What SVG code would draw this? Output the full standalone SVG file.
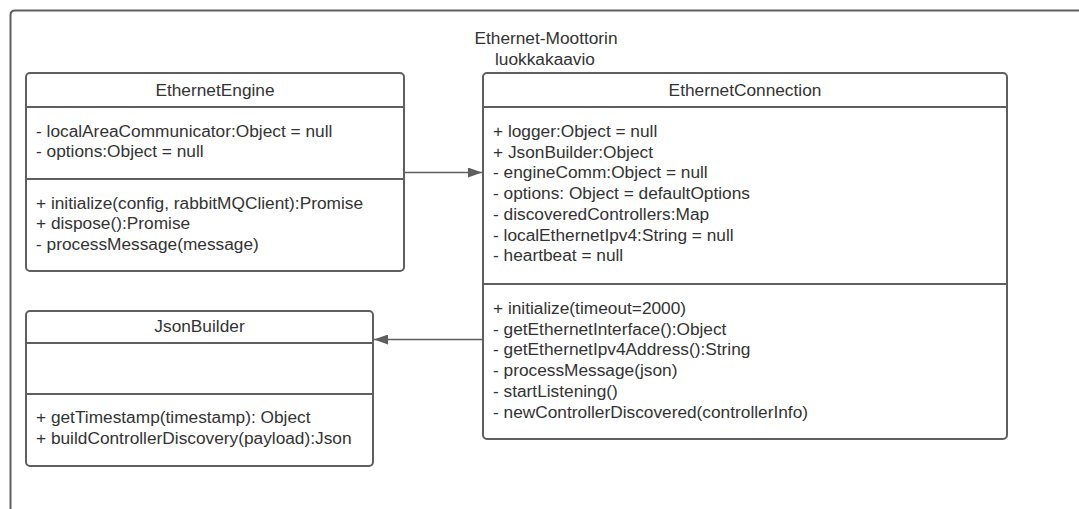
<svg xmlns="http://www.w3.org/2000/svg" width="1079" height="509" viewBox="0 0 1079 509">
  <defs>
    <style>
      .frame { fill: none; stroke: #5f5f5f; stroke-width: 2; }
      .box { fill: #ffffff; stroke: #5f5f5f; stroke-width: 2; }
      .sep { stroke: #5f5f5f; stroke-width: 2; }
      .conn { fill: none; stroke: #5f5f5f; stroke-width: 1.3; }
      text { font-family: "Liberation Sans", Arial, sans-serif; font-size: 17.3px; fill: #333333; }
      .title { text-anchor: middle; }
    </style>
    <marker id="arrow" viewBox="0 0 14 10" refX="14" refY="5" markerWidth="14" markerHeight="10" markerUnits="userSpaceOnUse" orient="auto">
      <path d="M0,0 L14,5 L0,10 Z" fill="#5f5f5f"/>
    </marker>
  </defs>

  <rect width="1079" height="509" fill="#ffffff"/>

  <!-- outer frame, open to the right and bottom -->
  <path class="frame" d="M10.5,515 L10.5,15 Q10.5,10.5 15,10.5 L1090,10.5"/>

  <!-- diagram title -->
  <text class="title" x="546" y="44">Ethernet-Moottorin</text>
  <text class="title" x="545" y="65">luokkakaavio</text>

  <!-- connectors -->
  <g id="connectors">
    <path class="conn" d="M404,172.5 L482,172.5" marker-end="url(#arrow)"/>
    <path class="conn" d="M483,339.5 L374,339.5" marker-end="url(#arrow)"/>
  </g>

  <g id="EthernetEngine">
    <rect class="box" x="26" y="73" width="378" height="198" rx="4"/>
    <line class="sep" x1="26" y1="107" x2="404" y2="107"/>
    <line class="sep" x1="26" y1="179" x2="404" y2="179"/>
    <text class="title" x="215" y="95.5">EthernetEngine</text>
    <text x="36" y="136.5">- localAreaCommunicator:Object = null</text>
    <text x="36" y="157.2">- options:Object = null</text>
    <text x="36" y="208.5">+ initialize(config, rabbitMQClient):Promise</text>
    <text x="36" y="229.2">+ dispose():Promise</text>
    <text x="36" y="249.9">- processMessage(message)</text>
  </g>

  <g id="EthernetConnection">
    <rect class="box" x="483" y="73" width="524" height="366" rx="4"/>
    <line class="sep" x1="483" y1="107" x2="1007" y2="107"/>
    <line class="sep" x1="483" y1="284" x2="1007" y2="284"/>
    <text class="title" x="745" y="95.5">EthernetConnection</text>
    <text x="493" y="137">+ logger:Object = null</text>
    <text x="493" y="157.7">+ JsonBuilder:Object</text>
    <text x="493" y="178.4">- engineComm:Object = null</text>
    <text x="493" y="199.1">- options: Object = defaultOptions</text>
    <text x="493" y="219.8">- discoveredControllers:Map</text>
    <text x="493" y="240.5">- localEthernetIpv4:String = null</text>
    <text x="493" y="261.2">- heartbeat = null</text>
    <text x="493" y="314">+ initialize(timeout=2000)</text>
    <text x="493" y="334.7">- getEthernetInterface():Object</text>
    <text x="493" y="355.4">- getEthernetIpv4Address():String</text>
    <text x="493" y="376.1">- processMessage(json)</text>
    <text x="493" y="396.8">- startListening()</text>
    <text x="493" y="417.5">- newControllerDiscovered(controllerInfo)</text>
  </g>

  <g id="JsonBuilder">
    <rect class="box" x="26" y="311" width="347" height="155" rx="4"/>
    <line class="sep" x1="26" y1="343" x2="373" y2="343"/>
    <line class="sep" x1="26" y1="394" x2="373" y2="394"/>
    <text class="title" x="199.5" y="332">JsonBuilder</text>
    <text x="36" y="423">+ getTimestamp(timestamp): Object</text>
    <text x="36" y="444">+ buildControllerDiscovery(payload):Json</text>
  </g>
</svg>
